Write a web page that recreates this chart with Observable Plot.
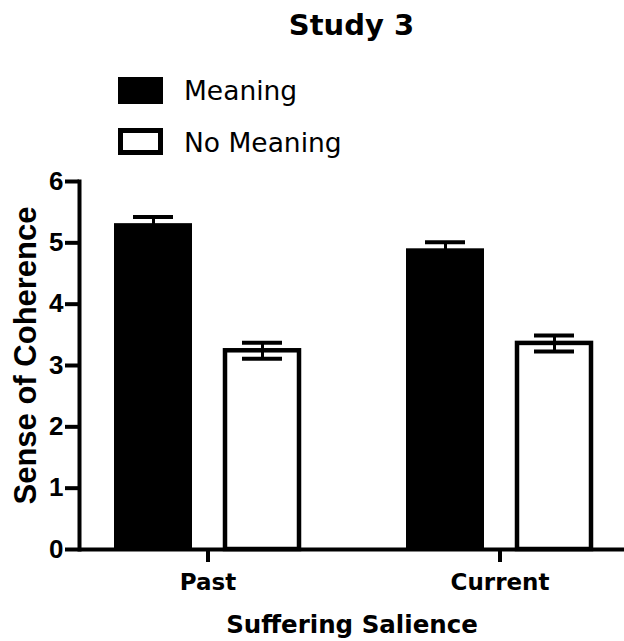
<!DOCTYPE html>
<html>
<head>
<meta charset="utf-8">
<script src="https://cdn.jsdelivr.net/npm/d3@7"></script>
<script src="https://cdn.jsdelivr.net/npm/@observablehq/plot@0.6"></script>
<style>
  html, body { margin: 0; padding: 0; background: #fff; }
  #wrap { position: relative; width: 624px; height: 641px; background: #fff; overflow: hidden; }
  #header { position: relative; width: 624px; height: 170px; }
  .t { position: absolute; white-space: nowrap; color: #000; }
  #title { font-family: "DejaVu Sans", sans-serif; font-weight: bold; font-size: 29px; line-height: 29px; top: 10.5px; left: 351.5px; transform: translateX(-50%); }
  .sw { position: absolute; left: 118px; width: 45px; height: 27px; box-sizing: border-box; }
  .lg { font-family: "DejaVu Sans", sans-serif; font-size: 26.5px; line-height: 26.5px; left: 184px; }
</style>
</head>
<body>
<div id="wrap">
  <div id="header">
    <div id="title" class="t"></div>
    <div id="sw0" class="sw" style="top:77px;background:#000;"></div>
    <div id="lg0" class="t lg" style="top:77.6px;"></div>
    <div id="sw1" class="sw" style="top:128px;background:#fff;border:5px solid #000;"></div>
    <div id="lg1" class="t lg" style="top:129.6px;"></div>
  </div>
  <div id="chart"></div>
</div>
<script>
// ---- data ----
const chartTitle = "Study 3";
const periods = ["Past", "Current"];
const conditions = ["Meaning", "No Meaning"];
const meaningMeans = [5.28, 4.87];
const meaningSE = [0.14, 0.14];
const noMeaningMeans = [3.24, 3.36];
const noMeaningSE = [0.13, 0.13];
const yTicks = [0, 1, 2, 3, 4, 5, 6];
const xTitle = "Suffering Salience";
const yTitle = "Sense of Coherence";

// ---- header ----
document.getElementById("title").textContent = chartTitle;
document.getElementById("lg0").textContent = conditions[0];
document.getElementById("lg1").textContent = conditions[1];

// ---- table ----
const rows = periods.flatMap((p, i) => [
  {period: p, condition: conditions[0], mean: meaningMeans[i], se: meaningSE[i]},
  {period: p, condition: conditions[1], mean: noMeaningMeans[i], se: noMeaningSE[i]}
]);
const M = rows.filter(d => d.condition === conditions[0]);
const N = rows.filter(d => d.condition === conditions[1]);

const chart = Plot.plot({
  width: 624,
  height: 471,
  marginLeft: 79,
  marginRight: 0,
  marginTop: 11,
  marginBottom: 92,
  style: {fontFamily: "DejaVu Sans", fontWeight: "bold", background: "#fff", color: "#000", overflow: "visible"},
  x: {type: "band", domain: periods, paddingInner: 0.283, paddingOuter: 0.0717, align: 0.548, label: null},
  y: {domain: [0, 6], label: null},
  marks: [
    Plot.barY(M, {x: "period", y: "mean", fill: "#000", stroke: "#000", strokeWidth: 4, insetLeft: 13, insetRight: 122}),
    Plot.barY(N, {x: "period", y: "mean", fill: "#fff", stroke: "#000", strokeWidth: 4.5, insetLeft: 122, insetRight: 13}),
    Plot.ruleX(M, {x: "period", y1: d => d.mean - d.se, y2: d => d.mean + d.se, dx: -54.5, strokeWidth: 3}),
    Plot.ruleX(N, {x: "period", y1: d => d.mean - d.se, y2: d => d.mean + d.se, dx: 54.5, strokeWidth: 3}),
    Plot.tickY(M, {x: "period", y: d => d.mean + d.se, insetLeft: 30, insetRight: 139, strokeWidth: 4}),
    Plot.tickY(M, {x: "period", y: d => d.mean - d.se, insetLeft: 30, insetRight: 139, strokeWidth: 4}),
    Plot.tickY(N, {x: "period", y: d => d.mean + d.se, insetLeft: 139, insetRight: 30, strokeWidth: 4}),
    Plot.tickY(N, {x: "period", y: d => d.mean - d.se, insetLeft: 139, insetRight: 30, strokeWidth: 4}),
    Plot.ruleY([0], {strokeWidth: 4}),
    Plot.frame({anchor: "left", strokeWidth: 4}),
    Plot.axisY({ticks: yTicks, tickFormat: d => String(d), tickSize: 14, tickPadding: 2, strokeWidth: 4, fontSize: 26, fontWeight: "bold", fontFamily: "Liberation Sans", label: null}),
    Plot.axisX({tickSize: 13, tickPadding: 11, strokeWidth: 4, fontSize: 23, fontWeight: "bold", label: null}),
    Plot.text([xTitle], {text: d => d, frameAnchor: "bottom", textAnchor: "middle", lineAnchor: "middle", dy: 76, fontSize: 24.5, fontWeight: "bold"}),
    Plot.text([yTitle], {text: d => d, frameAnchor: "left", textAnchor: "middle", lineAnchor: "middle", rotate: -90, dx: -53.5, dy: -10, fontSize: 31, fontWeight: "bold", fontFamily: "Liberation Sans"})
  ]
});
document.getElementById("chart").appendChild(chart);
</script>
</body>
</html>
